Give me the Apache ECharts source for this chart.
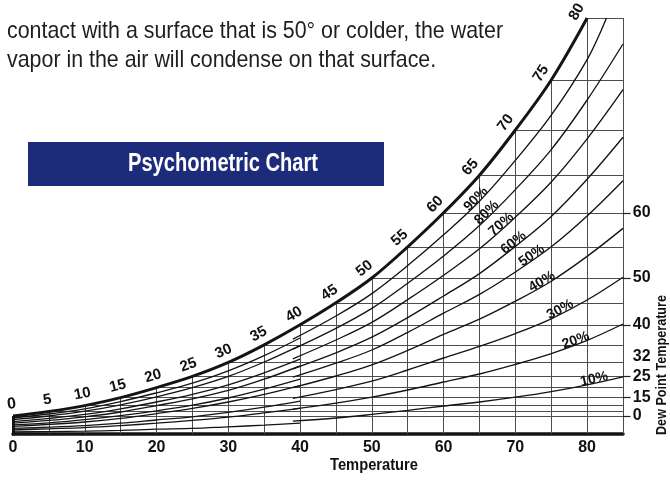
<!DOCTYPE html>
<html><head><meta charset="utf-8">
<script src="https://cdn.jsdelivr.net/npm/echarts@6/dist/echarts.min.js"></script>
<style>html,body{margin:0;padding:0;background:#fff}#c{width:670px;height:481px}</style>
</head><body><div id="c"></div>
<script>
// ---------------- data ----------------
const tempTicks = [0, 10, 20, 30, 40, 50, 60, 70, 80];
const tempMax = 85;
// saturation (dew point) curve, moisture in 0.01 inHg-like units
const satTemps    = [0, 5, 10, 15, 20, 25, 30, 35, 40, 45, 50, 55, 60, 65, 70, 75, 80];
const satMoisture = [4.5, 5.6, 7.1, 9.1, 11.6, 14.4, 17.9, 22.3, 27.3, 32.8, 39.0, 46.8, 55.3, 64.7, 76.0, 88.5, 104];
const moistureMax = 104;
// right-hand dew point scale
const dewLabels   = [0, 15, 25, 32, 40, 50, 60];
const dewMoisture = [4.5, 9.1, 14.4, 19.3, 27.3, 39.0, 55.3];
const dewHasTick  = [true, true, true, false, true, true, true];
// relative humidity curves
const rhNames = ['10%', '20%', '30%', '40%', '50%', '60%', '70%', '80%', '90%'];
const rhLowTemps = [0, 5, 10, 15, 20, 25, 30, 35, 40];
const rh10Low = [0.5, 0.6, 0.7, 0.9, 1.2, 1.4, 1.8, 2.2, 2.7];
const rh20Low = [1.0, 1.3, 1.6, 2.1, 2.7, 3.4, 4.2, 5.3, 6.4];
const rh30Low = [1.4, 1.7, 2.1, 2.7, 3.5, 4.3, 5.4, 6.7, 8.2];
const rh40Low = [1.9, 2.4, 3.0, 3.9, 5.1, 6.4, 8.0, 9.9, 12.1];
const rh50Low = [2.3, 2.8, 3.6, 4.6, 5.8, 7.2, 9.0, 11.2, 13.7];
const rh60Low = [2.7, 3.4, 4.3, 5.5, 7.1, 8.8, 10.9, 13.7, 17.0];
const rh70Low = [3.1, 3.9, 4.9, 6.3, 8.0, 9.9, 12.3, 15.3, 18.7];
const rh80Low = [3.6, 4.5, 5.7, 7.3, 9.3, 11.6, 14.4, 18.0, 22.1];
const rh90Low = [4.0, 5.0, 6.3, 8.1, 10.3, 12.7, 15.8, 19.6, 24.0];
const rhHighTemps   = [39, 45, 50, 55, 60, 65, 70, 75, 80, 85];
const rh90HighTemps = [39, 45, 50, 55, 60, 65, 70, 75, 80, 82.7];
const rh10High = [3.2, 4.0, 4.9, 5.9, 7.0, 8.0, 9.2, 10.6, 12.3, 14.3];
const rh20High = [6.2, 7.7, 9.2, 11.0, 13.0, 15.0, 17.4, 20.1, 23.4, 27.5];
const rh30High = [8.9, 11.1, 13.2, 16.0, 19.0, 21.9, 25.1, 28.8, 33.5, 39.2];
const rh40High = [11.6, 14.5, 17.3, 20.9, 24.9, 28.7, 33.2, 38.2, 44.4, 51.4];
const rh50High = [14.2, 17.7, 21.0, 25.4, 30.2, 34.9, 40.5, 46.8, 54.5, 63.3];
const rh60High = [16.3, 20.3, 24.2, 29.1, 34.5, 40.1, 46.9, 54.4, 63.7, 74.2];
const rh70High = [18.8, 23.5, 27.9, 33.6, 39.7, 46.3, 54.2, 63.0, 73.8, 86.1];
const rh80High = [21.2, 26.4, 31.4, 37.7, 44.5, 52.1, 61.1, 71.1, 83.5, 97.5];
const rh90High = [23.7, 29.5, 35.1, 42.1, 49.8, 58.2, 68.4, 79.7, 93.6, 104];

const rhLow  = [rh10Low, rh20Low, rh30Low, rh40Low, rh50Low, rh60Low, rh70Low, rh80Low, rh90Low];
const rhHigh = [rh10High, rh20High, rh30High, rh40High, rh50High, rh60High, rh70High, rh80High, rh90High];
// where along each curve its label sits (temperature)
const rhLabelAt = [81.1, 78.6, 76.5, 74.0, 72.6, 70.1, 68.4, 66.4, 64.9];

// ---------------- styling ----------------
const SANS = '"Liberation Sans", Arial, sans-serif';
const INK = '#141414';
const GRID = '#4d4d4d';

// condensed look: measure text and squeeze it horizontally to the reference width
const meas = document.createElement('canvas').getContext('2d');
function squeeze(text, size, weight, target) {
  meas.font = (weight || 'normal') + ' ' + size + 'px ' + SANS;
  return target / meas.measureText(text).width;
}

const zip = (xs, ys) => xs.map((x, i) => [x, ys[i]]);
const curve = (xs, ys) => ({
  type: 'line', data: zip(xs, ys), symbol: 'none', smooth: 0.35,
  lineStyle: { color: INK, width: 1.35 }, silent: true, z: 3, animation: false
});

const series = [];
series.push({
  type: 'lines', coordinateSystem: 'cartesian2d', silent: true, z: 2, clip: false,
  lineStyle: { color: GRID, width: 1, opacity: 1 },
  data: satTemps.slice(1).map((t, i) => ({ coords: [[t, 0], [t, satMoisture[i + 1]]] }))
    .concat([{ coords: [[tempMax, 0], [tempMax, moistureMax]] }])
});
series.push({
  type: 'lines', coordinateSystem: 'cartesian2d', silent: true, z: 2, clip: false,
  lineStyle: { color: GRID, width: 1, opacity: 1 },
  data: satTemps.map((t, i) => ({ coords: [[t, satMoisture[i]], [tempMax, satMoisture[i]]] }))
});
series.push({
  type: 'lines', coordinateSystem: 'cartesian2d', silent: true, z: 2, clip: false,
  lineStyle: { color: '#222', width: 1.2, opacity: 1 },
  data: dewMoisture.filter((m, i) => dewHasTick[i]).map(m => ({ coords: [[tempMax, m], [tempMax + 1.05, m]] }))
});
series.push({
  type: 'lines', coordinateSystem: 'cartesian2d', silent: true, z: 4, clip: false,
  lineStyle: { color: INK, width: 3, opacity: 1 },
  data: [{ coords: [[0, -0.4], [0, satMoisture[0]]] }]
});
rhLow.forEach(ys => series.push(curve(rhLowTemps, ys)));
rhHigh.forEach((ys, i) => series.push(curve(i === 8 ? rh90HighTemps : rhHighTemps, ys)));
series.push({
  type: 'line', data: zip(satTemps, satMoisture), symbol: 'none', smooth: 0.35,
  lineStyle: { color: INK, width: 3 }, silent: true, z: 4, animation: false
});
const labelBase = { show: true, opacity: 1, color: '#111', fontFamily: SANS, fontWeight: 'bold' };
series.push({
  type: 'scatter', clip: false, silent: true, z: 5, symbolSize: 1,
  itemStyle: { color: 'rgba(0,0,0,0)', opacity: 1 },
  data: dewMoisture.map((m, i) => ({ value: [tempMax + 1.15, m], name: String(dewLabels[i]) })),
  label: Object.assign({}, labelBase, { position: 'right', distance: 1, formatter: p => p.name, fontSize: 16 })
});
series.push({ id: 'satLab', type: 'scatter', clip: false, silent: true, z: 6, symbolSize: 1,
  itemStyle: { color: 'rgba(0,0,0,0)', opacity: 1 }, data: [] });
series.push({ id: 'rhLab', type: 'scatter', clip: false, silent: true, z: 6, symbolSize: 1,
  itemStyle: { color: 'rgba(0,0,0,0)', opacity: 1 }, data: [] });

const line1 = 'contact with a surface that is 50° or colder, the water';
const line2 = 'vapor in the air will condense on that surface.';
const sx1 = squeeze(line1, 24, 'normal', 496);
const sxBanner = squeeze('Psychometric Chart', 25, 'bold', 190);
const sxTemp = squeeze('Temperature', 16, 'bold', 88);
const sxDew = squeeze('Dew Point Temperature', 14, 'bold', 140);

const option = {
  animation: false,
  grid: { left: 13, right: 47, top: 18, bottom: 47 },
  xAxis: {
    type: 'value', min: 0, max: tempMax, interval: 10,
    axisLine: { show: true, onZero: false, lineStyle: { color: INK, width: 3.5 } },
    axisTick: { show: false }, splitLine: { show: false },
    axisLabel: { margin: 6, color: '#111', fontFamily: SANS, fontWeight: 'bold', fontSize: 16,
                 formatter: v => tempTicks.includes(v) ? String(v) : '' }
  },
  yAxis: { type: 'value', min: 0, max: moistureMax, show: false },
  graphic: [
    { type: 'text', x: 7, y: 31, scaleX: sx1, style: { text: line1,
      fontFamily: SANS, fontSize: 24, fill: '#1e1e1e', verticalAlign: 'middle' } },
    { type: 'text', x: 7, y: 60, scaleX: sx1, style: { text: line2,
      fontFamily: SANS, fontSize: 24, fill: '#1e1e1e', verticalAlign: 'middle' } },
    { type: 'rect', shape: { x: 28, y: 142, width: 356, height: 44 }, style: { fill: '#1c2b7a' } },
    { type: 'text', x: 223, y: 164, scaleX: sxBanner, style: { text: 'Psychometric Chart', fontFamily: SANS, fontWeight: 'bold',
      fontSize: 25, fill: '#ffffff', align: 'center', verticalAlign: 'middle' } },
    { type: 'text', x: 374, y: 466, scaleX: sxTemp, style: { text: 'Temperature', fontFamily: SANS, fontWeight: 'bold',
      fontSize: 16, fill: '#111', align: 'center', verticalAlign: 'middle' } },
    { type: 'text', x: 662, y: 365, rotation: Math.PI / 2, scaleX: sxDew, style: { text: 'Dew Point Temperature', fontFamily: SANS,
      fontWeight: 'bold', fontSize: 14, fill: '#111', align: 'center', verticalAlign: 'middle' } }
  ],
  series: series
};

const chart = echarts.init(document.getElementById('c'), null, { renderer: 'canvas' });
chart.setOption(option);

const toPx = p => chart.convertToPixel({ gridIndex: 0 }, p);
const toData = p => chart.convertFromPixel({ gridIndex: 0 }, p);
function interp(xs, ys, x) {
  for (let i = 0; i < xs.length - 1; i++) {
    if (x >= xs[i] && x <= xs[i + 1]) { const f = (x - xs[i]) / (xs[i + 1] - xs[i]); return ys[i] + f * (ys[i + 1] - ys[i]); }
  }
  return x < xs[0] ? ys[0] : ys[ys.length - 1];
}
function along(xs, ys, x, dist, text, size) {
  const x0 = Math.max(xs[0], x - 1.5), x1 = Math.min(xs[xs.length - 1], x + 1.5);
  const a = toPx([x0, interp(xs, ys, x0)]), b = toPx([x1, interp(xs, ys, x1)]);
  const th = Math.atan2(-(b[1] - a[1]), b[0] - a[0]);
  const c = toPx([x, interp(xs, ys, x)]);
  const cx = c[0] - Math.sin(th) * dist, cy = c[1] - Math.cos(th) * dist;
  return {
    value: toData([cx, cy]),
    label: Object.assign({}, labelBase, { position: 'inside', formatter: text, rotate: th * 180 / Math.PI, fontSize: size })
  };
}
const satLab = satTemps.map(t => along(satTemps, satMoisture, t, 12, String(t), t === 0 ? 16 : 15));
const rhLab = rhNames.map((n, i) => along(i === 8 ? rh90HighTemps : rhHighTemps, rhHigh[i], rhLabelAt[i], 4, n, 14));
chart.setOption({ series: [{ id: 'satLab', data: satLab }, { id: 'rhLab', data: rhLab }] });
</script>
</body></html>
